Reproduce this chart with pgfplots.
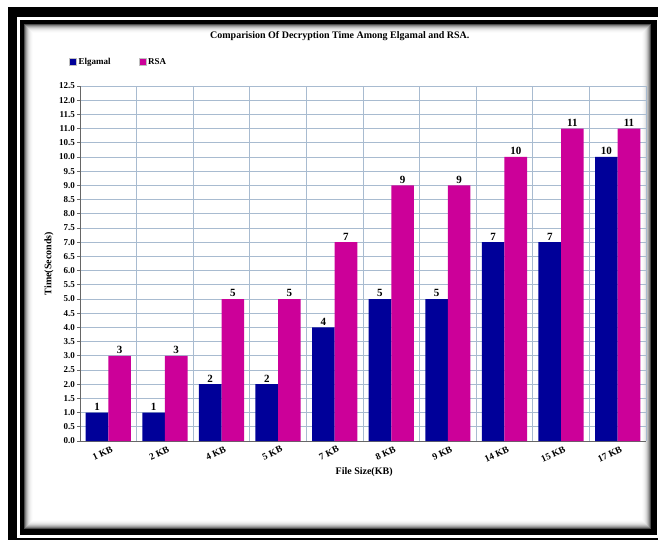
\documentclass[border=0pt]{standalone}
\usepackage{fontspec}
\setmainfont{Liberation Serif}
\usepackage{pgfplots}
\pgfplotsset{compat=1.18}
\definecolor{elg}{HTML}{000099}
\definecolor{rsa}{HTML}{CC0099}
\definecolor{gridc}{HTML}{A8BBD0}
\definecolor{axisc}{HTML}{666666}

\begin{document}
\begin{tikzpicture}
\useasboundingbox (0,0) rectangle (662pt,542pt);
% framed card with an inner shadow (coordinates measured from the top left)
\begin{scope}[x=1pt,y=-1pt,yshift=542pt]
  \fill[white] (0,0) rectangle (662,542);
  \fill[black] (8,7) rectangle (658,540);
  \fill[white] (17,17) rectangle (658,538);
  \fill[black] (20,20) rectangle (657,535);
  \foreach \s [count=\i from 0] in {70,50,36,25,16,10,6,3,1} {
    \fill[black!\s] (24+\i,24+\i) rectangle (651-\i,529-\i);
  }
  \fill[white] (33,33) rectangle (642,520);
\end{scope}

\begin{axis}[
  at={(80pt,101pt)}, anchor=south west,
  scale only axis, width=566pt, height=355pt,
  ybar=0pt, bar width=22.6pt,
  xmin=-0.5, xmax=9.5, ymin=0, ymax=12.5,
  xtick={0,...,9},
  xticklabels={1 KB,2 KB,4 KB,5 KB,7 KB,8 KB,9 KB,14 KB,15 KB,17 KB},
  minor xtick={-0.5,0.5,1.5,2.5,3.5,4.5,5.5,6.5,7.5,8.5,9.5},
  ytick={0,0.5,1,1.5,2,2.5,3,3.5,4,4.5,5,5.5,6,6.5,7,7.5,8,8.5,9,9.5,10,10.5,11,11.5,12,12.5},
  xminorgrids, xmajorgrids=false, ymajorgrids,
  grid style={gridc, line width=0.9pt},
  minor grid style={gridc, line width=0.9pt},
  axis x line*=bottom, axis y line*=left,
  axis line style={axisc, line width=1pt, -},
  tick align=outside,
  xtick style={draw=none},
  minor x tick style={axisc, line width=0.8pt},
  minor tick length=4pt,
  ytick style={axisc, line width=0.8pt},
  major tick length=3pt,
  /pgf/number format/assume math mode=true,
  yticklabel style={font=\bfseries\fontsize{9}{9}\selectfont,
    /pgf/number format/fixed, /pgf/number format/fixed zerofill,
    /pgf/number format/precision=1, xshift=1.5pt},
  xticklabel style={font=\bfseries\fontsize{9.5}{10}\selectfont,
    rotate=25, anchor=north east, xshift=5pt, yshift=1pt},
  title={Comparision Of Decryption Time Among Elgamal and RSA.},
  title style={font=\bfseries\fontsize{10}{11}\selectfont,
    at={(axis description cs:0.459,1.146)}, anchor=center, yshift=-8pt},
  xlabel={File Size(KB)},
  xlabel style={font=\bfseries\fontsize{10}{11}\selectfont,
    at={(axis description cs:0.502,-0.087)}, anchor=center, yshift=0pt},
  ylabel={Time(Seconds)},
  ylabel style={font=\bfseries\fontsize{10}{11}\selectfont,
    at={(axis description cs:-0.0548,0.5)}, anchor=center},
  nodes near coords,
  every node near coord/.append style={font=\bfseries\fontsize{11}{11}\selectfont,
    black, inner sep=2pt},
  legend image code/.code={\draw[#1, draw=gray!50] (0pt,-3.5pt) rectangle (7pt,3.5pt);},
  legend columns=2,
  legend style={draw=none, fill=none, inner sep=0pt,
    at={(axis description cs:-0.0194,1.0676)}, anchor=west,
    font=\bfseries\fontsize{9}{9}\selectfont,
    /tikz/every even column/.append style={column sep=26pt}},
]
\addplot[fill=elg, draw=none] coordinates {
  (0,1) (1,1) (2,2) (3,2) (4,4) (5,5) (6,5) (7,7) (8,7) (9,10)};
\addlegendentry{Elgamal}
\addplot[fill=rsa, draw=none] coordinates {
  (0,3) (1,3) (2,5) (3,5) (4,7) (5,9) (6,9) (7,10) (8,11) (9,11)};
\addlegendentry{RSA}
\end{axis}
\end{tikzpicture}
\end{document}
